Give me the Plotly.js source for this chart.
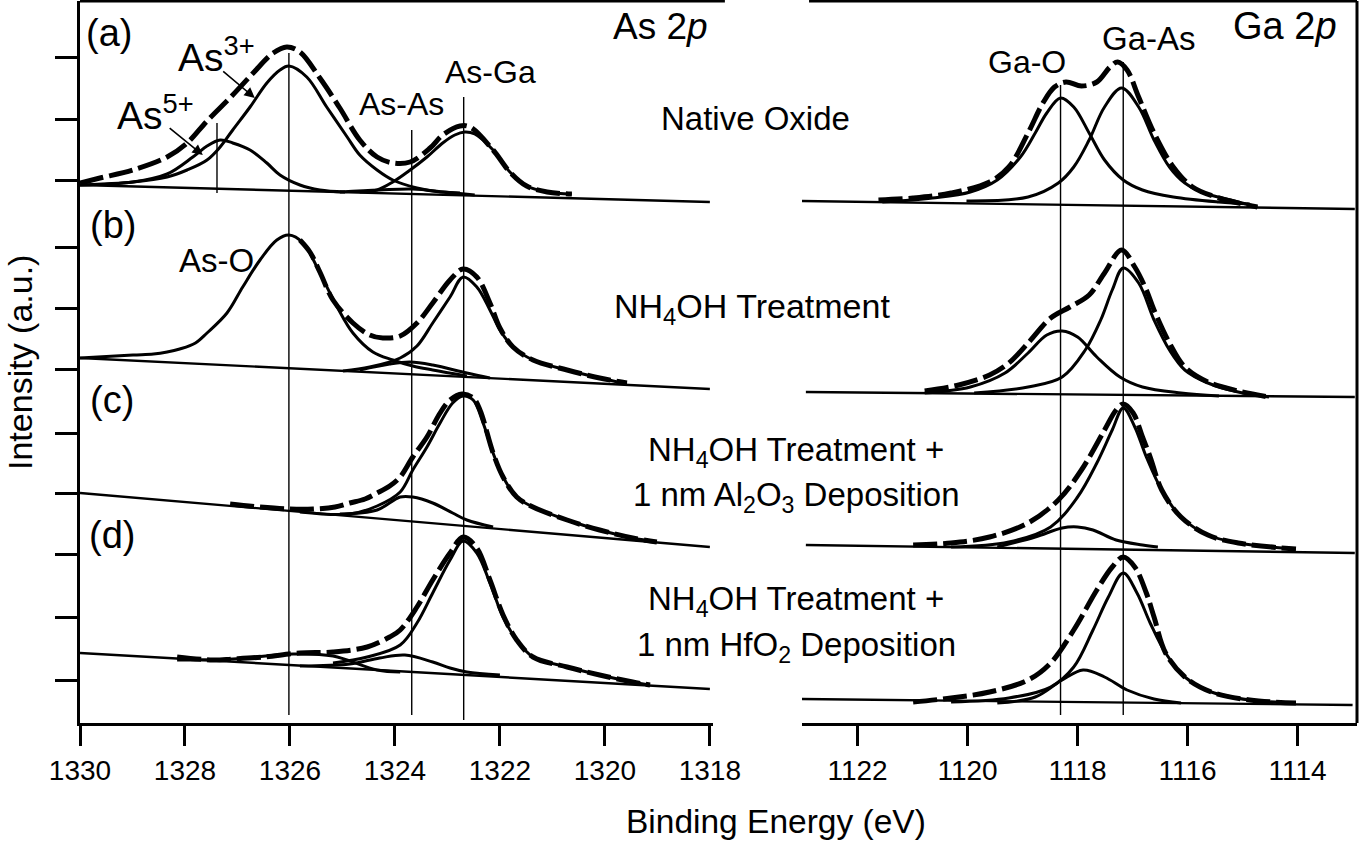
<!DOCTYPE html>
<html>
<head>
<meta charset="utf-8">
<script src="https://cdn.plot.ly/plotly-3.0.1.min.js"></script>
<style>html,body{margin:0;padding:0;background:#fff;}#chart{width:1360px;height:844px;}</style>
</head>
<body>
<div id="chart"></div>
<script>
// ---------- axis ticks ----------
const asTicks = [1330, 1328, 1326, 1324, 1322, 1320, 1318];
const gaTicks = [1122, 1120, 1118, 1116, 1114];
const intensityTicks = [666, 604, 543, 476, 415, 354, 290, 230, 169, 106, 43];

// ---------- As 2p (left) ----------
// (a) Native oxide
const baseA_As_x = [1330, 1318];
const baseA_As_y = [538, 521];
const envA_As_x = [1330.00,1329.62,1328.99,1328.34,1327.96,1327.58,1327.09,1326.70,1326.32,1326.06,1325.81,1325.43,1325.05,1324.67,1324.34,1324.04,1323.71,1323.33,1323.09,1322.76,1322.57,1322.13,1321.81,1321.49,1321.10,1320.63];
const envA_As_y = [540,545,553,566,580,602,628,650,670,676,671,645,615,583,566,560,561,575,588,597,596,573,551,537,531,529];
const as3A_x = [1330.00,1328.99,1328.34,1327.96,1327.58,1327.33,1327.09,1326.76,1326.44,1326.19,1326.02,1325.68,1325.30,1324.91,1324.67,1324.34,1324.04,1323.58,1323.14,1322.76];
const as3A_y = [538,541,546,553,563,576,593,616,640,653,657,646,616,586,568,553,543,535,531,530];
const as5A_x = [1330.00,1328.99,1328.34,1327.85,1327.58,1327.33,1327.09,1326.76,1326.44,1326.19,1325.81,1325.43,1324.95];
const as5A_y = [538,541,549,566,577,583,580,573,560,548,538,533,531];
const asAsA_x = [1325.05,1324.29,1323.66,1323.05,1322.48];
const asAsA_y = [531,533,534,531,528];
const asGaA_x = [1324.67,1324.34,1324.04,1323.71,1323.39,1323.09,1322.86,1322.67,1322.48,1322.13,1321.81,1321.49,1321.10,1320.63];
const asGaA_y = [531,533,541,553,566,580,588,591,589,573,551,537,531,529];

// (b) NH4OH
const baseB_As_x = [1330, 1318];
const baseB_As_y = [365, 334];
const asOB_x = [1330.00,1328.99,1328.60,1328.34,1328.10,1327.80,1327.58,1327.20,1326.90,1326.57,1326.25,1326.02,1325.75,1325.43,1325.10,1324.80,1324.42,1324.04,1323.66,1323.28,1322.63];
const asOB_y = [365,368,369,371,374,380,390,410,436,463,483,488,480,450,416,390,371,363,357,353,347];
const envB_As_x = [1325.81,1325.62,1325.43,1325.18,1324.80,1324.48,1324.23,1323.90,1323.58,1323.28,1322.95,1322.70,1322.44,1322.19,1322.00,1321.75,1321.37,1320.72,1320.10,1319.58];
const envB_As_y = [483,471,451,423,400,388,385,387,400,420,443,454,446,420,395,376,363,353,345,340];
const asGaB_x = [1324.99,1324.48,1323.90,1323.58,1323.28,1322.95,1322.70,1322.44,1322.19,1322.00,1321.75,1321.37,1320.72,1320.10,1319.58];
const asGaB_y = [352,356,365,377,400,426,446,436,413,393,376,363,353,345,339];
const asAsB_x = [1324.67,1324.10,1323.71,1323.28,1322.63,1322.19];
const asAsB_y = [353,359,361,358,350,345];

// (c) NH4OH + Al2O3
const baseC_As_x = [1330, 1318];
const baseC_As_y = [230, 176];
const envC_As_x = [1327.14,1326.57,1326.00,1325.56,1325.14,1324.86,1324.57,1324.34,1324.10,1323.90,1323.66,1323.39,1323.14,1322.95,1322.72,1322.51,1322.38,1322.13,1321.94,1321.68,1321.37,1320.72,1320.10,1319.47,1319.01];
const envC_As_y = [219,216,214,214,216,220,224,230,237,246,266,286,310,323,329,325,313,270,246,226,216,203,193,185,181];
const asGaC_x = [1325.81,1324.86,1324.34,1323.90,1323.66,1323.39,1323.14,1322.90,1322.70,1322.51,1322.32,1322.13,1321.94,1321.68,1321.37,1320.72,1320.10,1319.47,1319.01];
const asGaC_y = [211,209,217,231,253,276,300,320,327,323,300,270,246,226,216,203,193,185,181];
const asAsC_x = [1325.05,1324.34,1323.90,1323.66,1323.28,1322.90,1322.63,1322.13];
const asAsC_y = [209,213,226,226,220,210,203,196];

// (d) NH4OH + HfO2
const baseD_As_x = [1330, 1318];
const baseD_As_y = [70, 34];
const envD_As_x = [1328.15,1327.47,1327.09,1326.51,1325.81,1325.18,1324.53,1324.10,1323.90,1323.58,1323.28,1322.95,1322.70,1322.44,1322.19,1321.94,1321.68,1321.37,1320.72,1320.10,1319.47,1319.14];
const envD_As_y = [66,63,64,66,70,71,76,86,93,116,143,170,186,175,143,108,83,66,56,48,41,38];
const asGaD_x = [1325.18,1324.53,1323.90,1323.58,1323.28,1322.95,1322.70,1322.44,1322.19,1321.94,1321.68,1321.37,1320.72,1320.10,1319.47,1319.14];
const asGaD_y = [60,66,78,100,130,163,182,170,140,106,83,66,56,48,41,38];
const asAsD_x = [1325.81,1324.86,1324.29,1323.81,1323.28,1322.95,1322.63,1322.00];
const asAsD_y = [57,59,65,68,61,55,51,48];
const asOxD_x = [1328.15,1327.09,1325.94,1325.18,1324.34,1323.90];
const asOxD_y = [63,64,69,67,53,51];

// reference energies (As)
const asRefE = [1327.39, 1326.02, 1323.68, 1322.69];
const asRefTop = [600, 670, 593, 626];
const asRefBottom = [530, 8, 8, 3];

// ---------- Ga 2p (right) ----------
const baseA_Ga_x = [1123.01, 1112.96];
const baseA_Ga_y = [522, 514];
const gaOA_x = [1121.55,1120.64,1119.95,1119.46,1119.04,1118.77,1118.56,1118.31,1118.07,1117.79,1117.51,1117.17,1116.82,1116.26,1115.43,1114.87];
const gaOA_y = [521,525,531,543,566,590,610,625,616,590,563,543,533,526,521,519];
const gaAsA_x = [1120.02,1118.90,1118.35,1118.07,1117.79,1117.51,1117.20,1116.89,1116.61,1116.33,1116.05,1115.70,1115.22,1114.73];
const gaAsA_y = [522,526,540,556,583,616,635,616,583,556,540,530,523,516];
const envA_Ga_x = [1121.62,1120.99,1120.30,1119.60,1119.25,1118.90,1118.63,1118.42,1118.21,1117.93,1117.65,1117.41,1117.27,1117.10,1116.89,1116.61,1116.26,1115.91,1115.43,1114.73];
const envA_Ga_y = [523,525,530,541,556,590,620,636,641,637,641,656,661,653,626,590,556,536,525,516];

const baseB_Ga_x = [1122.94, 1112.96];
const baseB_Ga_y = [331, 326];
const gaAsB_x = [1119.88,1118.90,1118.28,1117.86,1117.58,1117.37,1117.17,1116.89,1116.61,1116.33,1116.05,1115.63,1115.08,1114.52];
const gaAsB_y = [330,336,346,373,403,433,455,440,403,373,353,340,331,326];
const gaOB_x = [1120.78,1119.95,1119.32,1118.90,1118.56,1118.28,1118.00,1117.65,1117.23,1116.82,1116.12,1115.43];
const gaOB_y = [330,336,350,370,388,392,386,366,346,336,330,327];
const envB_Ga_x = [1120.78,1120.16,1119.60,1119.25,1118.90,1118.49,1118.14,1117.79,1117.51,1117.20,1116.96,1116.75,1116.61,1116.33,1116.05,1115.63,1115.08,1114.52];
const envB_Ga_y = [332,338,348,360,380,405,416,428,450,473,456,433,413,380,356,341,332,326];

const baseC_Ga_x = [1122.94, 1112.96];
const baseC_Ga_y = [178, 170];
const gaAsC_x = [1120.30,1119.25,1118.49,1118.00,1117.65,1117.37,1117.17,1116.96,1116.75,1116.47,1116.12,1115.63,1115.08,1114.03];
const gaAsC_y = [176,181,196,226,260,293,315,296,266,233,206,188,180,174];
const gaOC_x = [1119.46,1118.77,1118.28,1118.00,1117.72,1117.30,1116.82,1116.54];
const gaOC_y = [176,186,195,196,193,183,178,176];
const envC_Ga_x = [1120.99,1120.30,1119.60,1118.90,1118.35,1117.93,1117.51,1117.30,1117.17,1116.99,1116.82,1116.68,1116.47,1116.12,1115.63,1115.08,1114.03];
const envC_Ga_y = [178,180,186,200,223,253,293,313,319,310,286,266,233,206,188,180,174];

const baseD_Ga_x = [1123.04, 1113.00];
const baseD_Ga_y = [24, 18];
const gaAsD_x = [1120.30,1119.25,1118.49,1118.07,1117.72,1117.44,1117.17,1116.92,1116.68,1116.40,1116.05,1115.57,1114.87,1114.03];
const gaAsD_y = [21,25,36,56,93,126,150,130,100,70,46,31,23,20];
const gaOD_x = [1119.46,1118.77,1118.28,1117.90,1117.51,1117.10,1116.61,1116.12];
const gaOD_y = [20,26,43,53,46,33,24,20];
const envD_Ga_x = [1120.99,1120.30,1119.60,1118.90,1118.49,1118.07,1117.65,1117.37,1117.17,1116.96,1116.75,1116.61,1116.40,1116.05,1115.57,1114.87,1114.03];
const envD_Ga_y = [21,25,31,43,60,93,133,156,166,156,130,106,70,46,31,23,20];

// reference energies (Ga)
const gaRefE = [1118.31, 1117.17];
const gaRefTop = [638, 661];
const gaRefBottom = [8, 8];

// ---------- build ----------
const FONT = 'Liberation Sans, Arial, Helvetica, sans-serif';
const traces = [];
function add(x, y, axis, kind) {
  const t = {x: x, y: y, xaxis: axis, yaxis: 'y', mode: 'lines', hoverinfo: 'skip', showlegend: false};
  if (kind === 'base') t.line = {color: '#000', width: 2.4};
  else if (kind === 'comp') t.line = {color: '#000', width: 3, shape: 'spline', smoothing: 1};
  else if (kind === 'env') t.line = {color: '#000', width: 5, shape: 'spline', smoothing: 1, dash: '24px,6px'};
  else if (kind === 'ref') t.line = {color: '#000', width: 1.4};
  traces.push(t);
}
// As side
[[baseA_As_x, baseA_As_y], [baseB_As_x, baseB_As_y], [baseC_As_x, baseC_As_y], [baseD_As_x, baseD_As_y]]
  .forEach(p => add(p[0], p[1], 'x', 'base'));
[[as3A_x, as3A_y], [as5A_x, as5A_y], [asAsA_x, asAsA_y], [asGaA_x, asGaA_y],
 [asOB_x, asOB_y], [asGaB_x, asGaB_y], [asAsB_x, asAsB_y],
 [asGaC_x, asGaC_y], [asAsC_x, asAsC_y],
 [asGaD_x, asGaD_y], [asAsD_x, asAsD_y], [asOxD_x, asOxD_y]]
  .forEach(p => add(p[0], p[1], 'x', 'comp'));
[[envA_As_x, envA_As_y], [envB_As_x, envB_As_y], [envC_As_x, envC_As_y], [envD_As_x, envD_As_y]]
  .forEach(p => add(p[0], p[1], 'x', 'env'));
asRefE.forEach((e, i) => add([e, e], [asRefTop[i], asRefBottom[i]], 'x', 'ref'));
// Ga side
[[baseA_Ga_x, baseA_Ga_y], [baseB_Ga_x, baseB_Ga_y], [baseC_Ga_x, baseC_Ga_y], [baseD_Ga_x, baseD_Ga_y]]
  .forEach(p => add(p[0], p[1], 'x2', 'base'));
[[gaOA_x, gaOA_y], [gaAsA_x, gaAsA_y], [gaOB_x, gaOB_y], [gaAsB_x, gaAsB_y],
 [gaOC_x, gaOC_y], [gaAsC_x, gaAsC_y], [gaOD_x, gaOD_y], [gaAsD_x, gaAsD_y]]
  .forEach(p => add(p[0], p[1], 'x2', 'comp'));
[[envA_Ga_x, envA_Ga_y], [envB_Ga_x, envB_Ga_y], [envC_Ga_x, envC_Ga_y], [envD_Ga_x, envD_Ga_y]]
  .forEach(p => add(p[0], p[1], 'x2', 'env'));
gaRefE.forEach((e, i) => add([e, e], [gaRefTop[i], gaRefBottom[i]], 'x2', 'ref'));

function txt(text, x, y, size, xref, extra) {
  return Object.assign({text: text, x: x, y: y, xref: xref || 'x', yref: 'y', showarrow: false,
    font: {family: FONT, size: size, color: '#000'}, xanchor: 'center', yanchor: 'middle'}, extra || {});
}
function arrow(hx, hy, tx, ty) {
  return {text: '', x: hx, y: hy, ax: tx, ay: ty, xref: 'x', yref: 'y', axref: 'x', ayref: 'y',
    showarrow: true, arrowhead: 2, arrowsize: 1.3, arrowwidth: 1.6, arrowcolor: '#000'};
}
const annotations = [
  txt('(a)', 1329.45, 690, 38), txt('(b)', 1329.37, 498, 38),
  txt('(c)', 1329.39, 323, 38), txt('(d)', 1329.39, 188, 38),
  txt('As 2<i>p</i>', 1318.95, 697, 37),
  txt('As<sup>5+</sup>', 1328.57, 611, 39), txt('As<sup>3+</sup>', 1327.39, 669, 39),
  txt('As-As', 1323.87, 619, 32), txt('As-Ga', 1322.17, 651, 32), txt('As-O', 1327.39, 463, 33),
  arrow(1327.66, 568, 1328.32, 596), arrow(1326.67, 625, 1327.30, 653),
  txt('Native Oxide', 0.529, 605, 33, 'paper'),
  txt('NH<sub>4</sub>OH Treatment', 0.526, 415, 34, 'paper'),
  txt('NH<sub>4</sub>OH Treatment +', 0.561, 271, 33, 'paper'),
  txt('1 nm Al<sub>2</sub>O<sub>3</sub> Deposition', 0.561, 226, 33, 'paper'),
  txt('NH<sub>4</sub>OH Treatment +', 0.561, 122, 33, 'paper'),
  txt('1 nm HfO<sub>2</sub> Deposition', 0.561, 76, 33, 'paper'),
  txt('Ga-O', 1118.92, 661, 32, 'x2'), txt('Ga-As', 1116.70, 685, 33, 'x2'),
  txt('Ga 2<i>p</i>', 1114.23, 697, 38, 'x2'),
  {text: 'Binding Energy (eV)', x: 0.545, y: -0.136, xref: 'paper', yref: 'paper', showarrow: false,
   font: {family: FONT, size: 33.5, color: '#000'}, xanchor: 'center', yanchor: 'middle'},
  {text: 'Intensity (a.u.)', x: -0.047, y: 0.5, xref: 'paper', yref: 'paper', showarrow: false, textangle: -90,
   font: {family: FONT, size: 34, color: '#000'}, xanchor: 'center', yanchor: 'middle'}
];

const axisCommon = {ticks: 'outside', ticklen: 20, tickwidth: 3, tickcolor: '#000', showline: true, linewidth: 3,
  linecolor: '#000', showgrid: false, zeroline: false, tickfont: {family: FONT, size: 28, color: '#000'}, anchor: 'y'};
const layout = {
  width: 1360, height: 844,
  margin: {l: 80, r: 3, t: 1, b: 121},
  paper_bgcolor: '#fff', plot_bgcolor: '#fff', showlegend: false,
  font: {family: FONT, color: '#000'},
  xaxis: Object.assign({}, axisCommon, {domain: [0, 0.4957], range: [1330, 1317.94], tickvals: asTicks, ticktext: asTicks.map(String)}),
  xaxis2: Object.assign({}, axisCommon, {domain: [0.5654, 1], range: [1123.01, 1112.92], tickvals: gaTicks, ticktext: gaTicks.map(String)}),
  yaxis: {range: [0, 722], tickvals: intensityTicks, showticklabels: false, ticks: 'outside', ticklen: 22, tickwidth: 3,
    tickcolor: '#000', showline: true, linewidth: 3, linecolor: '#000', showgrid: false, zeroline: false},
  shapes: [
    {type: 'line', xref: 'paper', yref: 'paper', x0: 0, x1: 0.505, y0: 1, y1: 1, line: {color: '#000', width: 3}},
    {type: 'line', xref: 'paper', yref: 'paper', x0: 0.5709, x1: 1, y0: 1, y1: 1, line: {color: '#000', width: 3}},
    {type: 'line', xref: 'paper', yref: 'paper', x0: 1, x1: 1, y0: 0, y1: 1, line: {color: '#000', width: 3}}
  ],
  annotations: annotations
};
Plotly.newPlot('chart', traces, layout, {staticPlot: true, displayModeBar: false});
</script>
</body>
</html>
